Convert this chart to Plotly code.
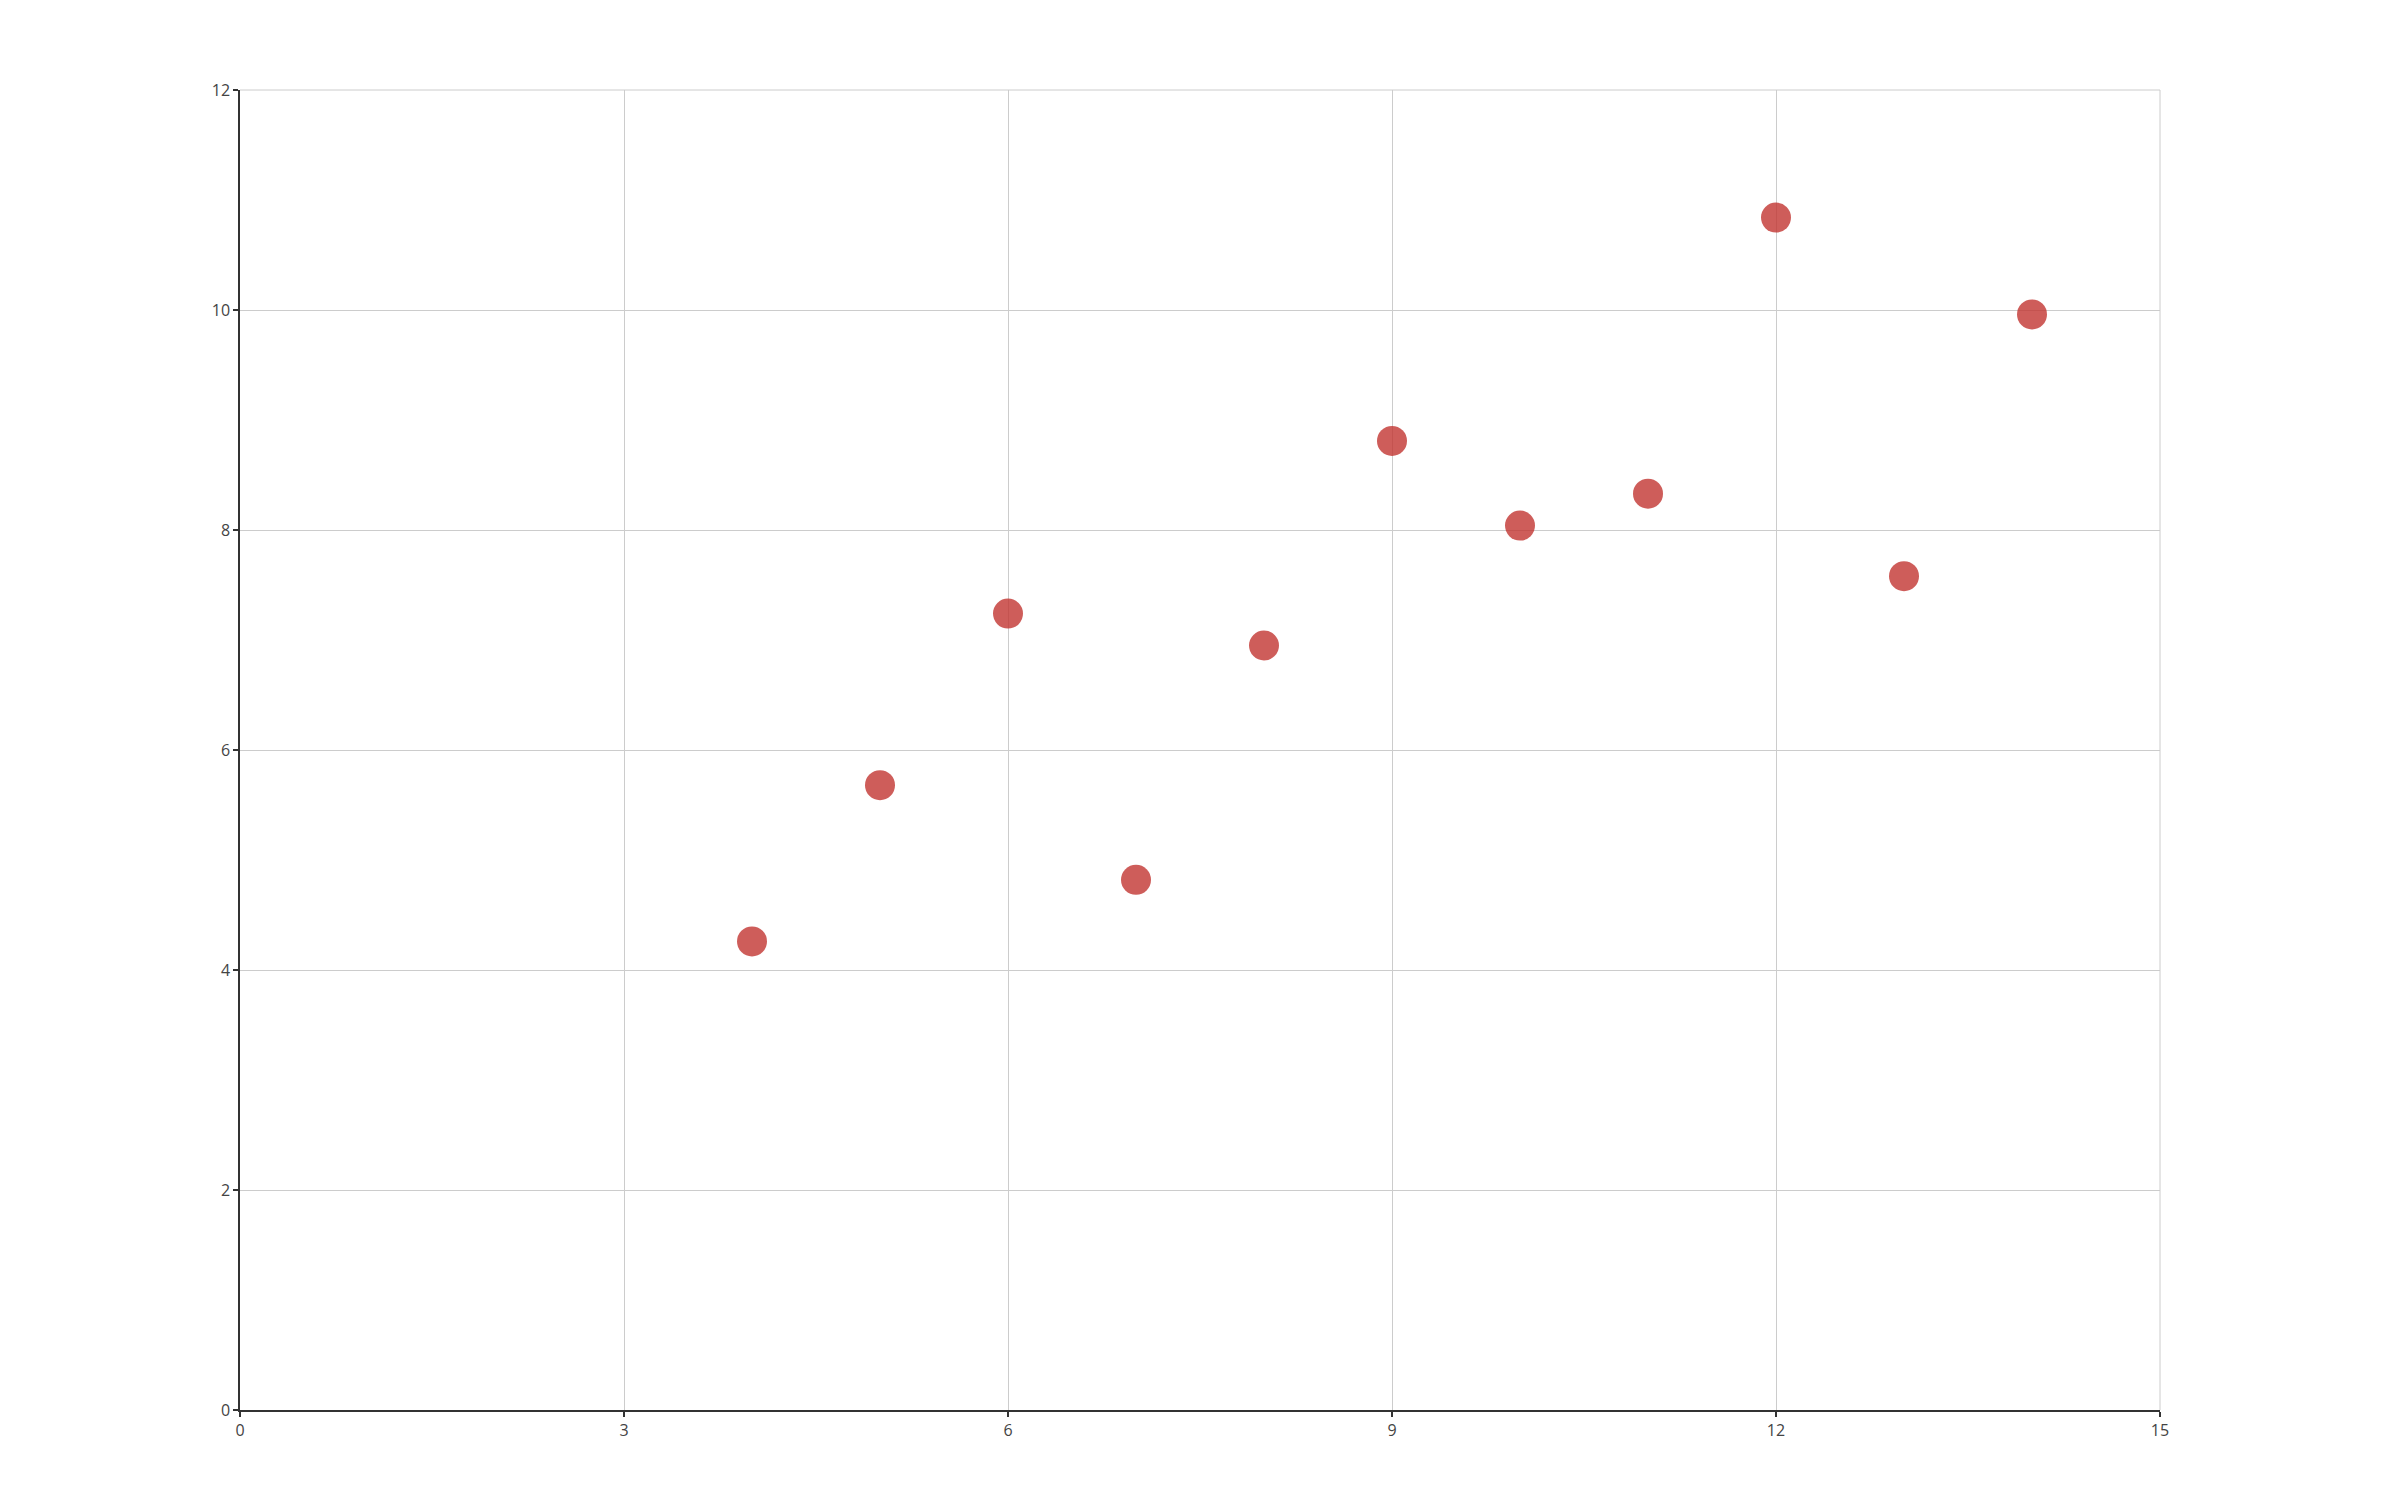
import plotly.graph_objects as go

x_vals = [10.0, 8.0, 13.0, 9.0, 11.0, 14.0, 6.0, 4.0, 12.0, 7.0, 5.0]
y_vals = [8.04, 6.95, 7.58, 8.81, 8.33, 9.96, 7.24, 4.26, 10.84, 4.82, 5.68]
x_ticks = [0, 3, 6, 9, 12, 15]
y_ticks = [0, 2, 4, 6, 8, 10, 12]

fig = go.Figure(go.Scatter(
    x=x_vals, y=y_vals, mode="markers",
    marker=dict(size=30, color="rgba(194,53,49,0.8)", line=dict(width=0)),
    showlegend=False, hoverinfo="x+y",
))

axis_common = dict(
    showgrid=True, gridcolor="#cccccc", gridwidth=1,
    showline=True, linecolor="#333333", linewidth=1.5,
    ticks="outside", ticklen=5, tickcolor="#333333", tickwidth=1.5,
    tickfont=dict(family="Open Sans, sans-serif", size=16, color="#444444"),
    zeroline=False, fixedrange=True,
)

fig.update_layout(
    width=2400, height=1500,
    margin=dict(l=232, r=248, t=82, b=98),
    plot_bgcolor="white", paper_bgcolor="white",
    xaxis=dict(range=[0, 15], tickvals=x_ticks, **axis_common),
    yaxis=dict(range=[0, 12], tickvals=y_ticks, **axis_common),
    shapes=[
        dict(type="line", xref="paper", yref="paper", x0=0, x1=1, y0=1, y1=1,
             line=dict(color="#cccccc", width=1), layer="below"),
        dict(type="line", xref="paper", yref="paper", x0=1, x1=1, y0=0, y1=1,
             line=dict(color="#cccccc", width=1), layer="below"),
    ],
)
fig.write_html("out.html")
